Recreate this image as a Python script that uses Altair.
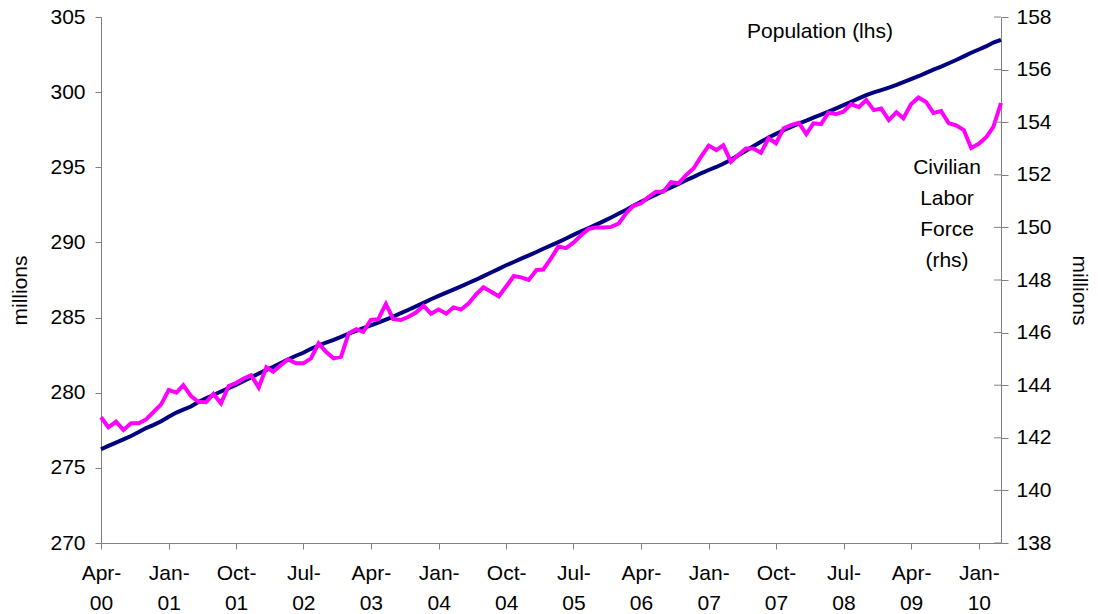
import altair as alt
import pandas as pd

# Monthly observations, Apr-2000 .. Apr-2010
months = pd.date_range("2000-04-01", periods=121, freq="MS").strftime("%Y-%m-%d").tolist()

population = [
    276.24, 276.46, 276.68, 276.90, 277.12, 277.38, 277.65, 277.86, 278.10, 278.40,
    278.68, 278.88, 279.08, 279.38, 279.62, 279.85, 280.08, 280.30, 280.52, 280.78,
    281.02, 281.28, 281.52, 281.72, 281.98, 282.22, 282.46, 282.66, 282.92, 283.14,
    283.34, 283.52, 283.72, 283.94, 284.12, 284.30, 284.48, 284.66, 284.86, 285.06,
    285.30, 285.52, 285.74, 285.98, 286.22, 286.44, 286.66, 286.86, 287.08, 287.30,
    287.52, 287.76, 288.00, 288.24, 288.48, 288.70, 288.92, 289.14, 289.36, 289.58,
    289.80, 290.02, 290.26, 290.50, 290.74, 290.96, 291.18, 291.42, 291.66, 291.92,
    292.18, 292.44, 292.70, 292.94, 293.18, 293.42, 293.66, 293.90, 294.14, 294.36,
    294.60, 294.82, 295.02, 295.24, 295.50, 295.80, 296.10, 296.40, 296.70, 296.98,
    297.22, 297.46, 297.68, 297.90, 298.10, 298.30, 298.50, 298.70, 298.92, 299.14,
    299.36, 299.58, 299.80, 299.98, 300.14, 300.30, 300.48, 300.66, 300.86, 301.06,
    301.28, 301.50, 301.70, 301.92, 302.14, 302.38, 302.62, 302.84, 303.06, 303.30,
    303.48,
]

labor_force = [
    142.78, 142.40, 142.61, 142.30, 142.55, 142.55, 142.70, 142.99, 143.27, 143.82,
    143.72, 144.00, 143.59, 143.37, 143.35, 143.67, 143.31, 143.97, 144.08, 144.25,
    144.38, 143.91, 144.68, 144.51, 144.77, 144.98, 144.83, 144.83, 145.02, 145.59,
    145.27, 145.02, 145.08, 145.97, 146.13, 146.03, 146.48, 146.51, 147.09, 146.51,
    146.48, 146.60, 146.76, 147.02, 146.72, 146.88, 146.72, 146.96, 146.88, 147.10,
    147.45, 147.72, 147.55, 147.38, 147.75, 148.15, 148.10, 148.00, 148.38, 148.40,
    148.82, 149.27, 149.21, 149.42, 149.70, 149.94, 150.00, 150.00, 150.02, 150.15,
    150.55, 150.82, 150.92, 151.15, 151.36, 151.36, 151.72, 151.68, 151.99, 152.25,
    152.69, 153.11, 152.94, 153.12, 152.50, 152.75, 153.00, 153.00, 152.84, 153.39,
    153.20, 153.77, 153.89, 153.98, 153.55, 153.96, 153.93, 154.36, 154.31, 154.40,
    154.69, 154.57, 154.84, 154.46, 154.52, 154.08, 154.38, 154.15, 154.68, 154.94,
    154.77, 154.35, 154.42, 153.96, 153.88, 153.70, 153.02, 153.18, 153.44, 153.82,
    154.73,
]

# x tick positions (every 9 months), y tick values
tick_years = [2000, 2001, 2001, 2002, 2003, 2004, 2004, 2005, 2006, 2007, 2007, 2008, 2009, 2010]
tick_mons = [4, 1, 10, 7, 4, 1, 10, 7, 4, 1, 10, 7, 4, 1]
left_ticks = [270, 275, 280, 285, 290, 295, 300, 305]
right_ticks = [138, 140, 142, 144, 146, 148, 150, 152, 154, 156, 158]

pop_label = ["Population (lhs)"]
clf_label = ["Civilian", "Labor", "Force", "(rhs)"]

df = pd.DataFrame({"month": months, "population": population, "labor_force": labor_force})

FONT = "Liberation Sans"
GRAY = "#808080"
FS = 21

tick_values = [alt.DateTime(year=y, month=m, date=1, utc=True) for y, m in zip(tick_years, tick_mons)]

x_axis = alt.Axis(
    values=tick_values,
    title=None,
    labelExpr="[utcFormat(datum.value, '%b') + '-', utcFormat(datum.value, '%y')]",
    labelFont=FONT, labelFontSize=FS, labelColor="black",
    labelLineHeight=30, labelPadding=13, labelAlign="center", labelBaseline="top",
    labelOverlap=False, labelFlush=False,
    domainColor=GRAY, tickColor=GRAY, tickSize=6, grid=False,
)
x_enc = alt.X(
    "month:T",
    scale=alt.Scale(
        domain=[alt.DateTime(year=2000, month=4, date=1, utc=True),
                alt.DateTime(year=2010, month=4, date=1, utc=True)],
        nice=False,
    ),
    axis=x_axis,
)

left_scale = alt.Scale(domain=[270, 305], nice=False, zero=False)
right_scale = alt.Scale(domain=[138, 158], nice=False, zero=False)

pop_line = alt.Chart(df).mark_line(color="#000080", strokeWidth=4).encode(
    x=x_enc,
    y=alt.Y(
        "population:Q",
        scale=left_scale,
        axis=alt.Axis(
            orient="left", values=left_ticks, grid=False,
            labelFont=FONT, labelFontSize=FS, labelColor="black", labelPadding=10,
            domainColor=GRAY, tickColor=GRAY, tickSize=6,
            title="millions", titleFont=FONT, titleFontSize=FS, titleFontWeight="normal",
            titleColor="black", titleAngle=270, titleAlign="center", titleBaseline="middle",
            titleX=-81, titleY=273,
        ),
    ),
)

clf_line = alt.Chart(df).mark_line(color="#FF00FF", strokeWidth=4).encode(
    x=x_enc,
    y=alt.Y(
        "labor_force:Q",
        scale=right_scale,
        axis=alt.Axis(
            orient="right", values=right_ticks, grid=False,
            labelFont=FONT, labelFontSize=FS, labelColor="black", labelPadding=8,
            domainColor=GRAY, tickColor=GRAY, tickSize=7,
            title="millions", titleFont=FONT, titleFontSize=FS, titleFontWeight="normal",
            titleColor="black", titleAngle=90, titleAlign="center", titleBaseline="middle",
            titleX=77, titleY=273,
        ),
    ),
)

# inner half of the right-axis tick marks (they cross the axis line)
inner_ticks = alt.Chart(pd.DataFrame({"v": right_ticks})).mark_rule(color=GRAY, strokeWidth=1).encode(
    y=alt.Y("v:Q", scale=right_scale, axis=None),
    x=alt.value(893),
    x2=alt.value(900),
)

pop_text = alt.Chart(pd.DataFrame({"t": pop_label})).mark_text(
    font=FONT, fontSize=FS, color="black", align="center", baseline="alphabetic"
).encode(text="t:N", x=alt.value(719), y=alt.value(21))

clf_text = alt.Chart(pd.DataFrame({"t": ["clf"]})).mark_text(
    font=FONT, fontSize=FS, color="black", align="center", baseline="alphabetic", lineHeight=31
).encode(text=alt.value(clf_label), x=alt.value(846), y=alt.value(157))

chart = (
    alt.layer(pop_line, clf_line, inner_ticks, pop_text, clf_text)
    .resolve_scale(y="independent")
    .properties(
        width=900, height=526,
        padding={"left": 93, "top": 9, "right": 89, "bottom": 71},
        autosize=alt.AutoSizeParams(type="none"),
        background="white",
    )
    .configure_view(strokeWidth=0)
)

chart.save("out.html", embed_options={"renderer": "svg", "actions": False})
